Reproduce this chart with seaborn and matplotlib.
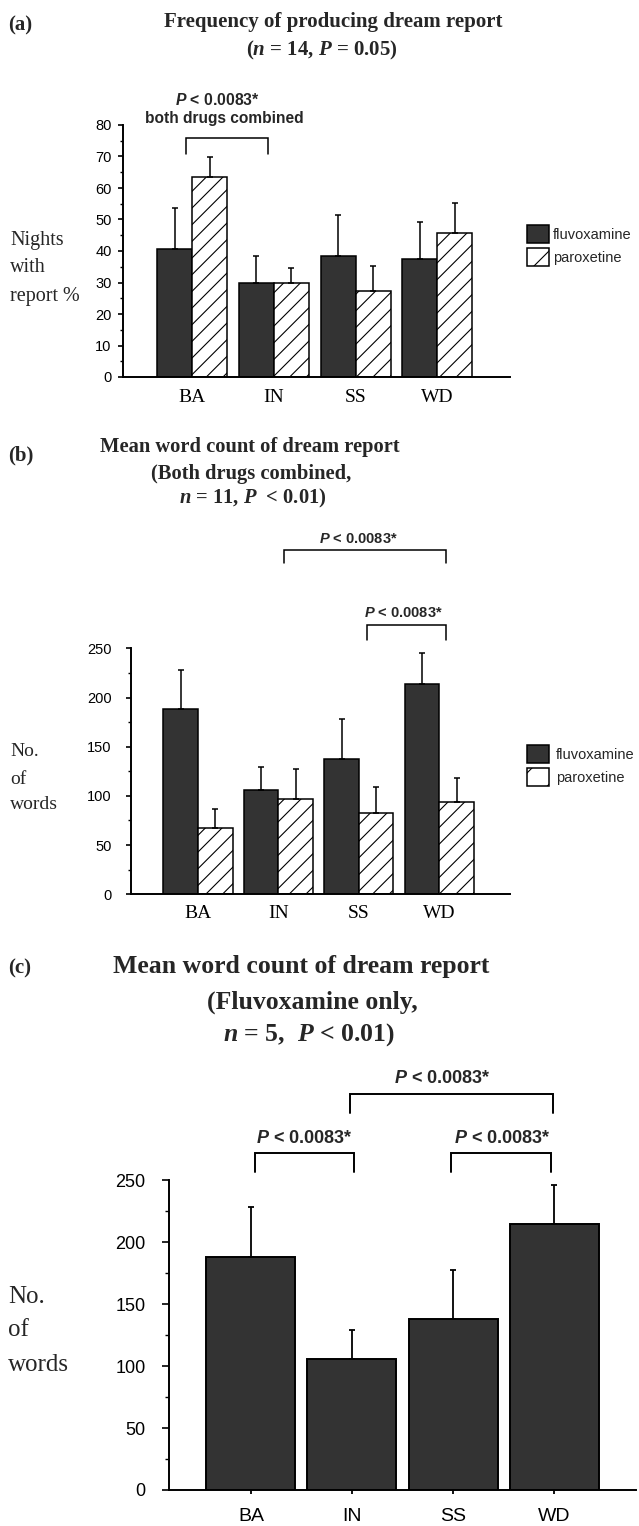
import numpy as np
import pandas as pd
import matplotlib
matplotlib.use("Agg")
import matplotlib.pyplot as plt
import seaborn as sns
from matplotlib.patches import Patch
from matplotlib.ticker import MultipleLocator

# ---------------- data ----------------
conditions = ["BA", "IN", "SS", "WD"]
drugs = ["fluvoxamine", "paroxetine"]

# (a) nights with report %
a_fluv = [40.5, 30.0, 38.5, 37.5]
a_fluv_err = [13.0, 8.5, 12.9, 11.8]
a_parox = [63.5, 30.0, 27.3, 45.7]
a_parox_err = [6.2, 4.7, 7.9, 9.6]

# (b) number of words, both drugs
b_fluv = [188, 106, 137, 214]
b_fluv_err = [40, 23, 41, 31]
b_parox = [67, 97, 83, 93.5]
b_parox_err = [19.7, 30, 26.3, 25]

# (c) number of words, fluvoxamine only
c_fluv = [188, 106, 138, 215]
c_fluv_err = [40.5, 23.3, 39.5, 31]

sig_label = r"$P$ < 0.0083*"

# ---------------- style ----------------
W, H = 639, 1526
DARK = "#333333"
SERIF = "Liberation Serif"
SANS = "Liberation Sans"

sns.set_theme(style="ticks")
plt.rcParams["font.family"] = [SANS, "DejaVu Sans"]
plt.rcParams["mathtext.fontset"] = "custom"
plt.rcParams["mathtext.it"] = "Liberation Sans:italic:bold"
plt.rcParams["mathtext.bfit"] = "Liberation Serif:italic:bold"
plt.rcParams["mathtext.rm"] = "Liberation Sans:bold"
plt.rcParams["hatch.linewidth"] = 0.8
plt.rcParams["axes.linewidth"] = 1.4
plt.rcParams["axes.edgecolor"] = "black"
plt.rcParams["xtick.color"] = "black"
plt.rcParams["ytick.color"] = "black"

fig = plt.figure(figsize=(W / 100, H / 100), dpi=100)
fig.patch.set_facecolor("white")


def fx(px):
    return px / W


def fy(py):
    return 1 - py / H


def make_axes(left, right, top, bottom):
    return fig.add_axes([fx(left), fy(bottom), (right - left) / W, (bottom - top) / H])


def add_err(ax, container, errs, lw=1.1):
    xs = [p.get_x() + p.get_width() / 2 for p in container]
    ys = [p.get_height() for p in container]
    ax.errorbar(xs, ys, yerr=[np.zeros(len(errs)), errs], fmt="none",
                ecolor="black", elinewidth=lw, capsize=2.5, capthick=lw, zorder=3)


def bracket(ax, x0, x1, y, ylow, lw):
    ax.plot([x0, x0, x1, x1], [ylow, y, y, ylow], color="black", lw=lw,
            clip_on=False, solid_joinstyle="miter")


def grouped(ax, fluv, parox, width):
    df = pd.DataFrame({
        "condition": conditions * 2,
        "drug": [drugs[0]] * len(conditions) + [drugs[1]] * len(conditions),
        "value": list(fluv) + list(parox),
    })
    sns.barplot(data=df, x="condition", y="value", hue="drug", order=conditions,
                hue_order=drugs, palette={drugs[0]: DARK, drugs[1]: "white"},
                edgecolor="black", linewidth=1.1, width=width, gap=0,
                errorbar=None, legend=False, saturation=1, ax=ax)
    for p in ax.containers[1]:
        p.set_hatch("//")


def legend(ax, top_px, textpad):
    handles = [
        Patch(facecolor=DARK, edgecolor="black", linewidth=1.1, label=drugs[0]),
        Patch(facecolor="white", edgecolor="black", linewidth=1.1, hatch="/", label=drugs[1]),
    ]
    ax.legend(handles=handles, loc="upper left",
              bbox_to_anchor=(fx(527), fy(top_px)), bbox_transform=fig.transFigure,
              frameon=False, fontsize=10.5, handlelength=1.5, handleheight=1.5,
              handletextpad=textpad, labelspacing=0.35, borderpad=0, borderaxespad=0)


def style_y(ax, major, minor, labelsize, pad):
    ax.yaxis.set_major_locator(MultipleLocator(major))
    ax.yaxis.set_minor_locator(MultipleLocator(minor))
    ax.tick_params(axis="y", which="major", direction="out", length=3.6, width=1.2,
                   labelsize=labelsize, pad=pad)
    ax.tick_params(axis="y", which="minor", direction="out", length=2.2, width=1.0)
    ax.set_xlabel("")
    ax.set_ylabel("")
    sns.despine(ax=ax)


# ---------------- panel (a) ----------------
ax_a = make_axes(123, 510, 125, 377)
grouped(ax_a, a_fluv, a_parox, 0.857)
add_err(ax_a, ax_a.containers[0], a_fluv_err)
add_err(ax_a, ax_a.containers[1], a_parox_err)
ax_a.set_ylim(0, 80)
ax_a.set_xlim(-0.845, 3.89)
style_y(ax_a, 10, 5, 10.5, 4.5)
ax_a.tick_params(axis="x", length=0, pad=8.6, labelsize=14)
for lbl in ax_a.get_xticklabels():
    lbl.set_fontfamily(SERIF)
bracket(ax_a, -0.07, 0.93, 76, 70.8, 1.1)
ax_a.text(0.31, 87.9, sig_label, ha="center", va="center", fontsize=11.3,
          fontweight="bold", clip_on=False)
ax_a.text(0.40, 82.2, "both drugs combined", ha="center", va="center",
          fontsize=11.2, fontweight="bold", clip_on=False)
legend(ax_a, 225, 0.3)

fig.text(fx(8), fy(25), "(a)", ha="left", va="center", family=SERIF,
         weight="bold", size=15)
fig.text(fx(333), fy(22), "Frequency of producing dream report", ha="center",
         va="center", family=SERIF, weight="bold", size=15)
fig.text(fx(322), fy(50), r"($\mathbfit{n}$ = 14, $\mathbfit{P}$ = 0.05)",
         ha="center", va="center", family=SERIF, weight="bold", size=15)
for txt, ypx in zip(["Nights", "with", "report %"], [240, 268, 297]):
    fig.text(fx(10), fy(ypx), txt, ha="left", va="center", family=SERIF, size=14.5)

# ---------------- panel (b) ----------------
ax_b = make_axes(131, 510, 648.3, 894.3)
grouped(ax_b, b_fluv, b_parox, 0.86)
add_err(ax_b, ax_b.containers[0], b_fluv_err)
add_err(ax_b, ax_b.containers[1], b_parox_err)
ax_b.set_ylim(0, 250)
ax_b.set_xlim(-0.834, 3.88)
style_y(ax_b, 50, 25, 10.5, 10.5)
ax_b.tick_params(axis="x", length=0, pad=8, labelsize=14)
for lbl in ax_b.get_xticklabels():
    lbl.set_fontfamily(SERIF)
bracket(ax_b, 1.07, 3.08, 350, 337, 1.1)
ax_b.text(1.99, 361, sig_label, ha="center", va="center", fontsize=10.5,
          fontweight="bold", clip_on=False)
bracket(ax_b, 2.10, 3.08, 274, 258.6, 1.1)
ax_b.text(2.56, 286, sig_label, ha="center", va="center", fontsize=10.5,
          fontweight="bold", clip_on=False)
legend(ax_b, 745, 0.5)

fig.text(fx(8), fy(455), "(b)", ha="left", va="center", family=SERIF,
         weight="bold", size=15)
fig.text(fx(249.5), fy(447), "Mean word count of dream report", ha="center",
         va="center", family=SERIF, weight="bold", size=14.8)
fig.text(fx(251), fy(474), "(Both drugs combined,", ha="center",
         va="center", family=SERIF, weight="bold", size=14.8)
fig.text(fx(253), fy(498), r"$\mathbfit{n}$ = 11, $\mathbfit{P}$  < 0.01)",
         ha="center", va="center", family=SERIF, weight="bold", size=14.8)
for txt, ypx in zip(["No.", "of", "words"], [752, 779, 804]):
    fig.text(fx(10), fy(ypx), txt, ha="left", va="center", family=SERIF, size=14)

# ---------------- panel (c) ----------------
ax_c = make_axes(169, 636, 1180.4, 1490)
sns.barplot(x=conditions, y=c_fluv, color=DARK, saturation=1, width=0.88,
            edgecolor="black", linewidth=1.4, errorbar=None, ax=ax_c)
add_err(ax_c, ax_c.containers[0], c_fluv_err, lw=1.3)
ax_c.set_ylim(0, 250)
ax_c.set_xlim(-0.81, 3.81)
style_y(ax_c, 50, 25, 13, 12)
ax_c.tick_params(axis="y", which="major", length=5)
ax_c.tick_params(axis="y", which="minor", length=3)
ax_c.tick_params(axis="x", direction="out", length=3, width=1.3, pad=10, labelsize=14)
bracket(ax_c, 0.98, 2.99, 319.6, 304.5, 1.4)
ax_c.text(1.89, 332, sig_label, ha="center", va="center", fontsize=13,
          fontweight="bold", clip_on=False)
bracket(ax_c, 0.04, 1.02, 272.5, 257, 1.4)
ax_c.text(0.53, 284, sig_label, ha="center", va="center", fontsize=13,
          fontweight="bold", clip_on=False)
bracket(ax_c, 1.98, 2.97, 272.5, 257, 1.4)
ax_c.text(2.49, 284, sig_label, ha="center", va="center", fontsize=13,
          fontweight="bold", clip_on=False)

fig.text(fx(8), fy(968), "(c)", ha="left", va="center", family=SERIF,
         weight="bold", size=15)
fig.text(fx(301), fy(967), "Mean word count of dream report", ha="center",
         va="center", family=SERIF, weight="bold", size=18.5)
fig.text(fx(312), fy(1002), "(Fluvoxamine only,", ha="center",
         va="center", family=SERIF, weight="bold", size=18.5)
fig.text(fx(309), fy(1035), r"$\mathbfit{n}$ = 5,  $\mathbfit{P}$ < 0.01)",
         ha="center", va="center", family=SERIF, weight="bold", size=18.5)
for txt, ypx in zip(["No.", "of", "words"], [1297, 1330, 1365]):
    fig.text(fx(8), fy(ypx), txt, ha="left", va="center", family=SERIF, size=18)

fig.savefig("out.png", dpi=100, facecolor="white")
